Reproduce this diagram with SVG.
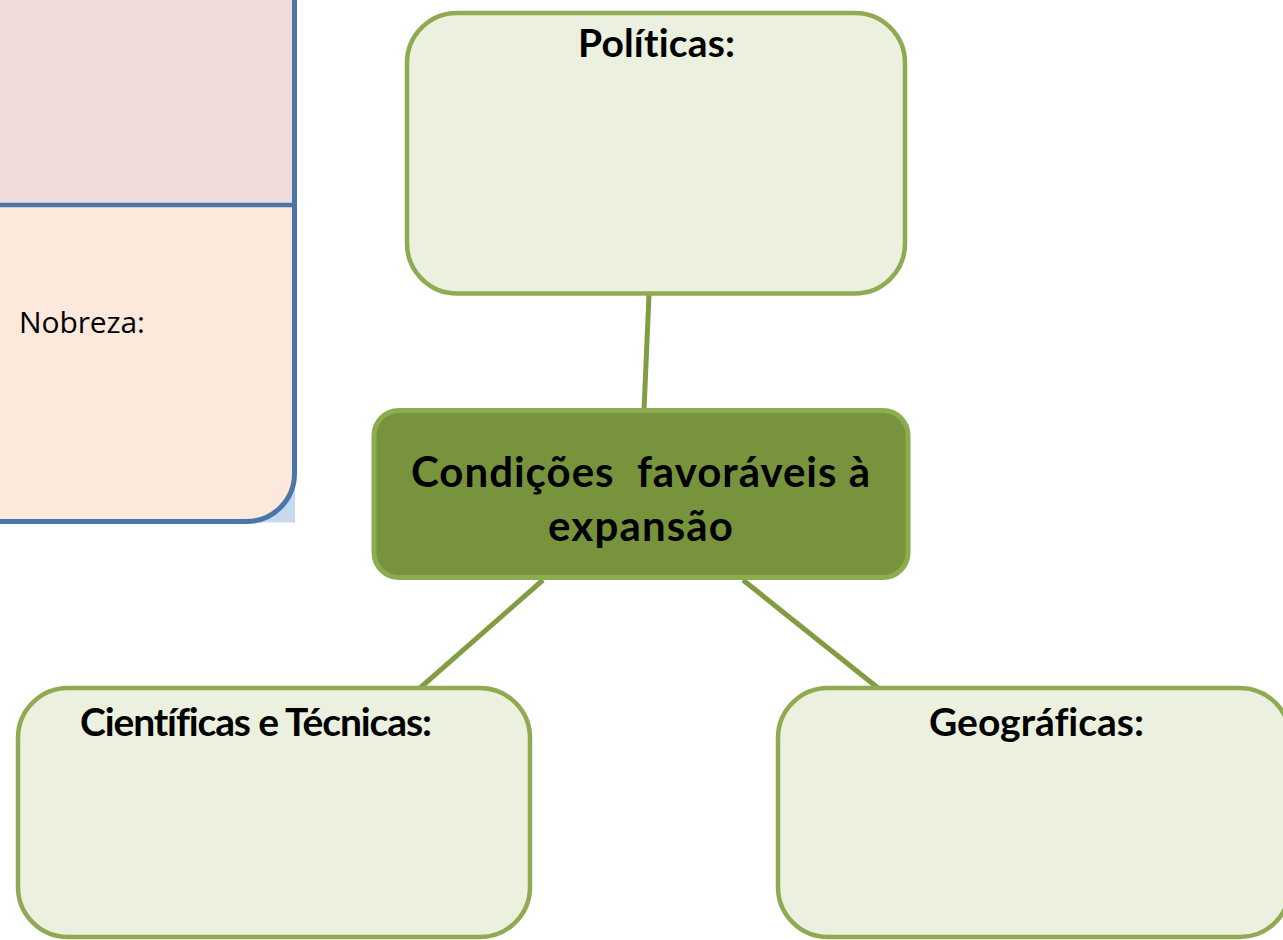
<svg xmlns="http://www.w3.org/2000/svg" width="1283" height="940" viewBox="0 0 1283 940">
  <style>
    .box { fill: #EBF1DE; stroke: #8FAA52; stroke-width: 4.5; }
    .center { fill: #77933C; stroke: #8CAC50; stroke-width: 5; }
    .conn { stroke: #819C41; stroke-width: 5; fill: none; }
    .head { font-family: Lato, "Liberation Sans", sans-serif; font-weight: bold; font-size: 39px; fill: #000; text-anchor: middle; font-variant-ligatures: none; }
    .big { font-family: Lato, "Liberation Sans", sans-serif; font-weight: bold; font-size: 42px; fill: #000; text-anchor: middle; font-variant-ligatures: none; }
    .reg { font-family: "Open Sans", "Liberation Sans", sans-serif; font-size: 30px; fill: #000; }
  </style>
  <rect width="1283" height="940" fill="#FFFFFF"/>

  <g id="panel">
    <rect x="230" y="460" width="65" height="62.5" fill="#C6D9F1"/>
    <path d="M -10 -10 H 294.5 V 473.5 A 48 48 0 0 1 246.5 521.5 H -10 Z" fill="#FCE9DB"/>
    <rect x="-10" y="-10" width="304.5" height="215" fill="#F0DCDB"/>
    <line x1="-10" y1="205" x2="294.5" y2="205" stroke="#4A76AA" stroke-width="4.5"/>
    <path d="M -10 -10 H 294.5 V 473.5 A 48 48 0 0 1 246.5 521.5 H -10" fill="none" stroke="#4A76AA" stroke-width="5"/>
    <text class="reg" x="19" y="333" textLength="126">Nobreza:</text>
  </g>

  <g id="connectors">
    <line class="conn" x1="649" y1="295" x2="644" y2="410"/>
    <line class="conn" x1="543" y1="580" x2="420" y2="688"/>
    <line class="conn" x1="743" y1="580" x2="878" y2="688"/>
  </g>

  <g id="node-politicas">
    <rect class="box" x="407" y="13" width="498" height="280.5" rx="50" ry="50"/>
    <text class="head" x="656.5" y="57" textLength="157">Políticas:</text>
  </g>

  <g id="node-center">
    <rect class="center" x="374" y="410.5" width="534" height="167" rx="25" ry="25"/>
    <text class="big" x="640.5" y="487" textLength="459" xml:space="preserve">Condições  favoráveis à</text>
    <text class="big" x="640.5" y="541" textLength="185">expansão</text>
  </g>

  <g id="node-cientificas">
    <rect class="box" x="18" y="688" width="512" height="249" rx="50" ry="50"/>
    <text class="head" x="256" y="736" textLength="352">Científicas e Técnicas:</text>
  </g>

  <g id="node-geograficas">
    <rect class="box" x="778" y="688" width="512" height="249" rx="50" ry="50"/>
    <text class="head" x="1036.5" y="736" textLength="215">Geográficas:</text>
  </g>
</svg>
